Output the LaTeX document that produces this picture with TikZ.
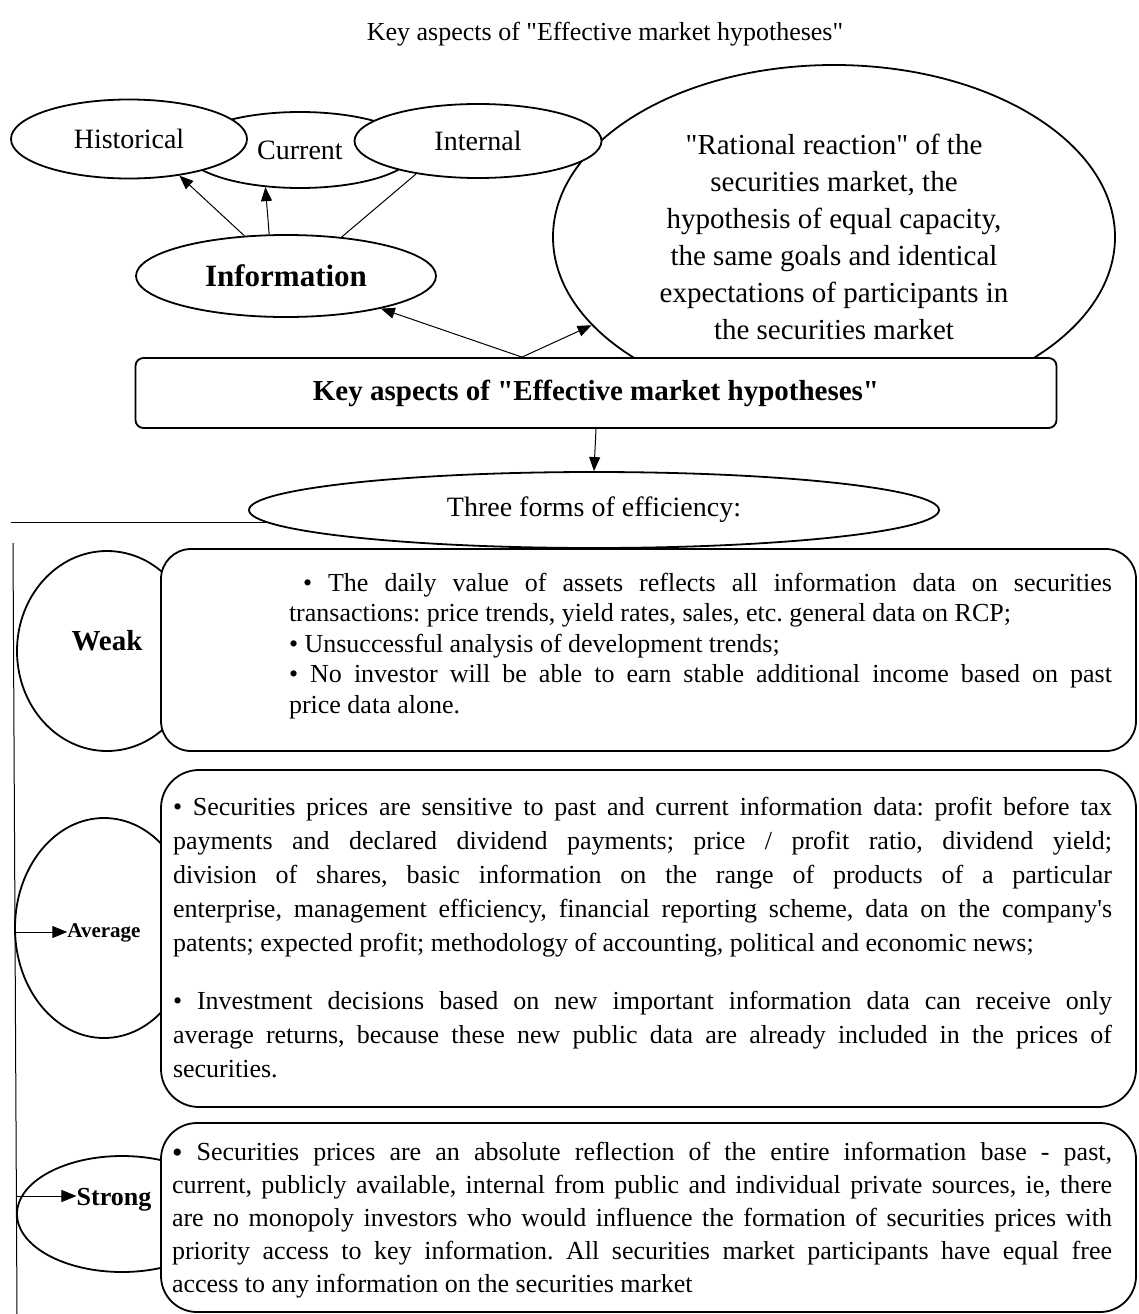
\documentclass[tikz,border=0pt]{standalone}
\usepackage{fontspec}
\setmainfont{Liberation Serif}[Ligatures=TeXOff]
\usetikzlibrary{shapes.geometric}
\usetikzlibrary{arrows.meta}
\usetikzlibrary{calc}
\usetikzlibrary{positioning}
\hbadness=10000
\frenchspacing
\tikzset{%
  oval/.style={ellipse, draw, line width=1.8pt, fill=white, inner sep=0pt,
               font=\fontsize{28}{32}\selectfont},
  panel/.style={draw, line width=1.8pt, fill=white, rounded corners=#1},
  link/.style={line width=1pt, -{Triangle[length=14pt,width=11pt]}},
  plain/.style={line width=1pt},
  bodytext/.style={inner sep=0pt, align=justify},
  rowlabel/.style={inner sep=0pt, font=\bfseries\fontsize{#1}{#1}\selectfont},
}
\begin{document}
\begin{tikzpicture}[x=1pt,y=-1pt]
              \useasboundingbox (0,0) rectangle (1139,1314);
              \node[font=\fontsize{26}{30}\selectfont] (title) at (605,34) {Key aspects of "Effective market hypotheses"};
              \node[oval, minimum width=562, minimum height=344, align=center, font=\fontsize{29}{37}\selectfont] (reaction) at (834,237)
                {"Rational reaction" of the\\ securities market, the\\ hypothesis of equal capacity,\\ the same goals and identical\\ expectations of participants in\\ the securities market};
              \node[oval, minimum width=230, minimum height=76] (current) at (300,150) {Current};
              \node[oval, minimum width=236, minimum height=79] (historical) at (129,139) {Historical};
              \node[oval, minimum width=247, minimum height=74] (internal) at (478,141) {Internal};
              \node[oval, minimum width=300, minimum height=82, font=\bfseries\fontsize{31}{34}\selectfont] (information) at (286,276) {Information};
              \node[panel=8, minimum width=921, minimum height=70, font=\bfseries\fontsize{29}{34}\selectfont] (keybox) at (596,393) {Key aspects of "Effective market hypotheses"};
              \node[oval, minimum width=690, minimum height=76] (forms) at (594,510) {Three forms of efficiency:};
              \draw[link] (information.136) -- (historical.324);
              \draw[link] (information.112) -- (current.227);
              \draw[plain] (information.35) -- (internal.208);
              \coordinate (fork) at ([xshift=-74pt]keybox.north);
              \draw[link] (fork) -- (information);
              \draw[link] (fork) -- (reaction.200);
              \draw[link] (keybox.south) -- (forms.north);
              \node[oval, minimum width=180, minimum height=200] (weak) at (107,651) {};
              \node[oval, minimum width=178, minimum height=220] (average) at (104,928) {};
              \node[oval, minimum width=210, minimum height=116] (strong) at (122,1214) {};
              \node[panel=30, minimum width=975, minimum height=202] (weakbox) at (648.5,650) {};
              \node[panel=38, minimum width=975, minimum height=337] (averagebox) at (648.5,938.5) {};
              \node[panel=36, minimum width=975, minimum height=189] (strongbox) at (648.5,1217.5) {};
              \node[bodytext, text width=823, font=\fontsize{26}{30.5}\selectfont] (weaktext) at (700.5,646)
                {\hspace*{14pt}\textbullet{} The daily value of assets reflects all information data on securities\linebreak
                 transactions: price trends, yield rates, sales, etc. general data on RCP;\par
                 \textbullet{} Unsuccessful analysis of development trends;\par
                 \textbullet{} No investor will be able to earn stable additional income based on past\linebreak
                 price data alone.};
              \node[bodytext, text width=939, font=\fontsize{26}{34}\selectfont] (averagetext) at (642.5,938)
                {\textbullet{} Securities prices are sensitive to past and current information data: profit before tax\linebreak
                 payments and declared dividend payments; price / profit ratio, dividend yield;\linebreak
                 division of shares, basic information on the range of products of a particular\linebreak
                 enterprise, management efficiency, financial reporting scheme, data on the company's\linebreak
                 patents; expected profit; methodology of accounting, political and economic news;\par
                 \vspace{24pt}\textbullet{} Investment decisions based on new important information data can receive only\linebreak
                 average returns, because these new public data are already included in the prices of\linebreak
                 securities.};
              \node[bodytext, text width=940, font=\fontsize{26}{33}\selectfont] (strongtext) at (642,1220)
                {\raisebox{-2pt}{\fontsize{30}{33}\selectfont\textbullet}{} Securities prices are an absolute reflection of the entire information base - past,\linebreak
                 current, publicly available, internal from public and individual private sources, ie, there\linebreak
                 are no monopoly investors who would influence the formation of securities prices with\linebreak
                 priority access to key information. All securities market participants have equal free\linebreak
                 access to any information on the securities market};
              \node[rowlabel=29] (weaklbl) at (107,641) {Weak};
              \node[rowlabel=21] (averagelbl) at (104,933) {Average};
              \node[rowlabel=26] (stronglbl) at (114,1200) {Strong};
              \coordinate (railtop) at (13,543);
              \coordinate (railbot) at (17,1314);
              \draw[plain] (railtop) -- (railbot);
              \coordinate (railhead) at (11,522);
              \draw[plain] (railhead) -- ($(forms.center)+(-327,12)$);
              \coordinate (averagetap) at (14,932);
              \coordinate (strongtap) at (16,1196);
              \draw[link,-{Triangle[length=15pt,width=12pt]}] (averagetap) -- (averagelbl.west |- averagetap);
              \draw[link,-{Triangle[length=15pt,width=12pt]}] (strongtap) -- (stronglbl.west |- strongtap);
          \end{tikzpicture}
\end{document}
